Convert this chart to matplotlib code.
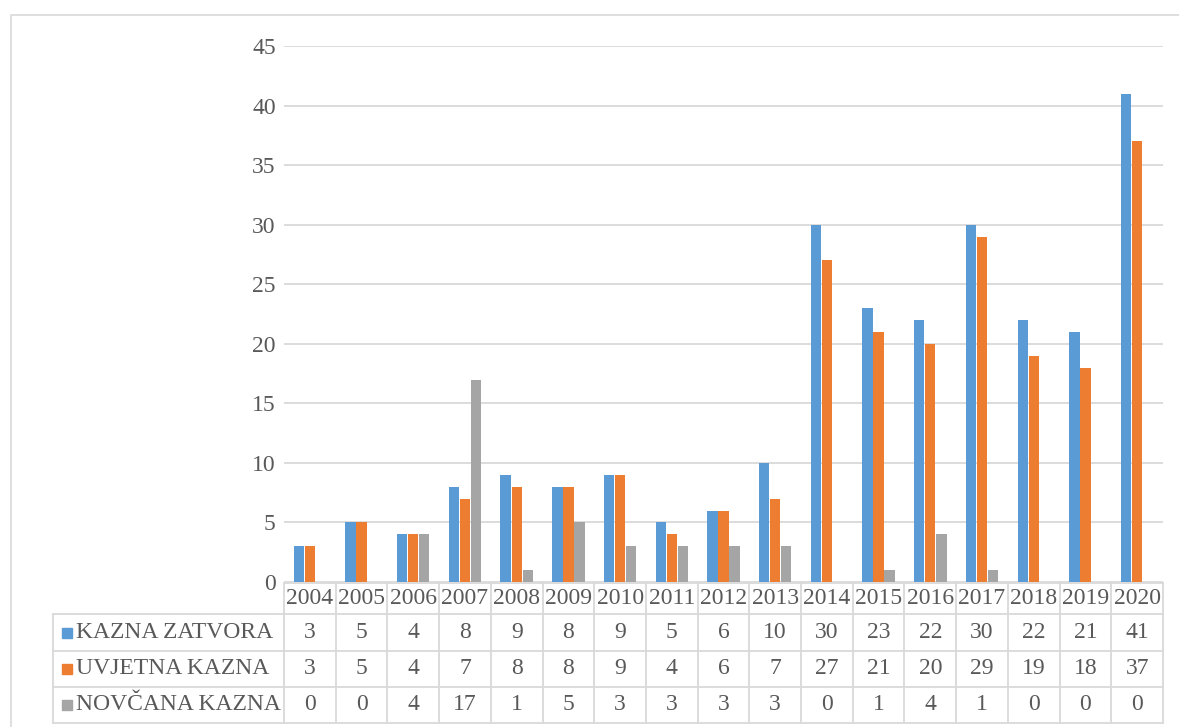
import matplotlib
matplotlib.use("Agg")
import matplotlib.pyplot as plt
import matplotlib.transforms as mtransforms
from matplotlib.patches import Rectangle
import numpy as np

years = ["2004", "2005", "2006", "2007", "2008", "2009", "2010", "2011", "2012",
         "2013", "2014", "2015", "2016", "2017", "2018", "2019", "2020"]
series_names = ["KAZNA ZATVORA", "UVJETNA KAZNA", "NOVČANA KAZNA"]
kazna_zatvora = [3, 5, 4, 8, 9, 8, 9, 5, 6, 10, 30, 23, 22, 30, 22, 21, 41]
uvjetna_kazna = [3, 5, 4, 7, 8, 8, 9, 4, 6, 7, 27, 21, 20, 29, 19, 18, 37]
novcana_kazna = [0, 0, 4, 17, 1, 5, 3, 3, 3, 3, 0, 1, 4, 1, 0, 0, 0]
colors = ["#5B9BD5", "#ED7D31", "#A5A5A5"]
yticks = [0, 5, 10, 15, 20, 25, 30, 35, 40, 45]

W, H = 1179, 727
plt.rcParams['font.family'] = ['Liberation Serif', 'DejaVu Serif']
TXT = "#595959"
GRID = "#D9D9D9"
FS = 17

fig = plt.figure(figsize=(W / 100, H / 100), dpi=100)

def fx(px):
    return px / W

def fy(py):
    return (H - py) / H

# outer chart border
fig.add_artist(Rectangle((fx(10.5), fy(760)), fx(1300), (760 - 14.5) / H,
                         transform=fig.transFigure, fill=False,
                         edgecolor=GRID, lw=1.2))

x_left, x_right = 284, 1163
y_top, y_bot = 46, 582
ax = fig.add_axes([fx(x_left), fy(y_bot), fx(x_right - x_left), (y_bot - y_top) / H])
n = len(years)
x = np.arange(n)
ax.set_xlim(-0.5, n - 0.5)
ax.set_ylim(0, 45)

data = [kazna_zatvora, uvjetna_kazna, novcana_kazna]
bw = 0.2
offsets = [-0.213, 0.0, 0.213]
for vals, off, c in zip(data, offsets, colors):
    ax.bar(x + off, vals, width=bw, color=c, zorder=3)

ax.set_yticks(yticks)
ax.set_yticklabels([str(t) for t in yticks], fontsize=FS, color=TXT)
ax.tick_params(axis='y', length=0, pad=6)
ax.set_xticks([])
ax.grid(axis='y', color=GRID, lw=1.3, zorder=0)
for s in ax.spines.values():
    s.set_visible(False)

# data table
tr = mtransforms.blended_transform_factory(ax.transData, fig.transFigure)
row_lines = [583, 614, 651, 687, 723]
tab_left = 53

def hline(py, x0_fig=None):
    if x0_fig is None:
        ax.plot([-0.5, n - 0.5], [fy(py)] * 2, transform=tr, color=GRID,
                lw=1.3, clip_on=False)
    else:
        fig.add_artist(plt.Line2D([fx(x0_fig), fx(x_right)], [fy(py)] * 2,
                                  transform=fig.transFigure, color=GRID, lw=1.3))

hline(row_lines[0])
for py in row_lines[1:]:
    hline(py, tab_left)

for k in range(n + 1):
    ax.plot([k - 0.5, k - 0.5], [fy(row_lines[0]), fy(row_lines[-1])],
            transform=tr, color=GRID, lw=1.3, clip_on=False)
fig.add_artist(plt.Line2D([fx(tab_left)] * 2, [fy(row_lines[1]), fy(row_lines[-1])],
                          transform=fig.transFigure, color=GRID, lw=1.3))

hy = (row_lines[0] + row_lines[1]) / 2
for i, yr in enumerate(years):
    ax.text(i, fy(hy), yr, transform=tr, ha='center', va='center',
            fontsize=FS, color=TXT, clip_on=False)

for r, (name, vals, c) in enumerate(zip(series_names, data, colors)):
    cy = (row_lines[r + 1] + row_lines[r + 2]) / 2
    fig.add_artist(Rectangle((fx(62), fy(cy + 5)), fx(10), 10 / H,
                             transform=fig.transFigure, color=c))
    fig.text(fx(76), fy(cy), name, ha='left', va='center', fontsize=FS, color=TXT)
    for i, v in enumerate(vals):
        ax.text(i, fy(cy), str(v), transform=tr, ha='center', va='center',
                fontsize=FS, color=TXT, clip_on=False)

fig.savefig("out.png", dpi=100, facecolor="white")
